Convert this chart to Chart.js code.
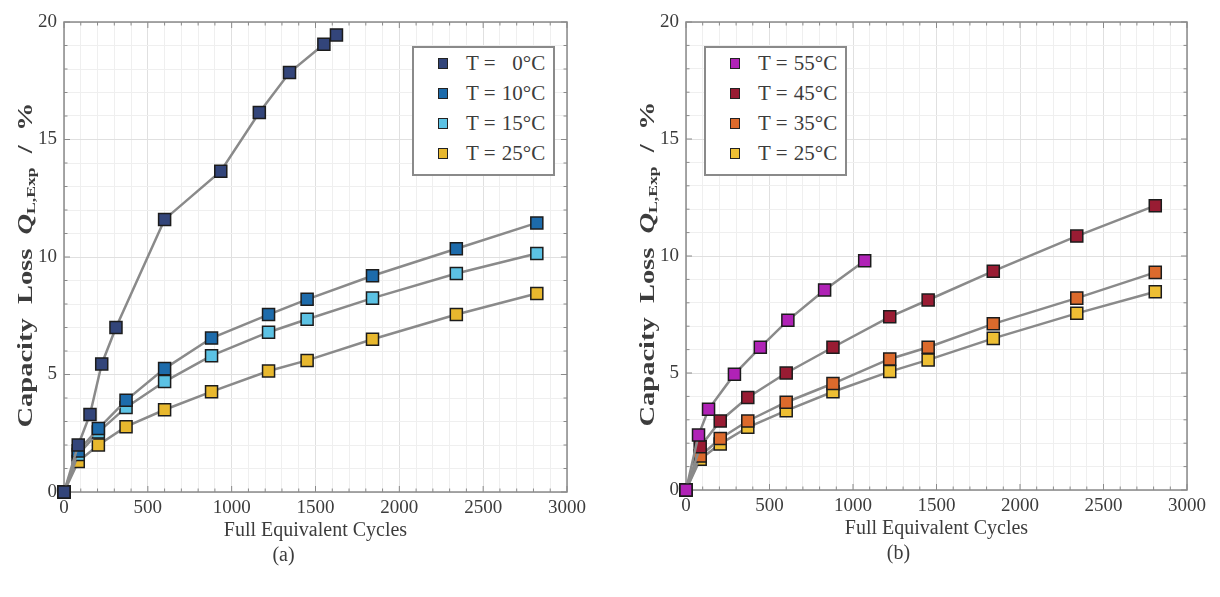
<!DOCTYPE html>
<html>
<head>
<meta charset="utf-8">
<script src="https://cdn.jsdelivr.net/npm/chart.js@4.4.1/dist/chart.umd.min.js"></script>
<style>
  body { margin: 0; background: #fff; width: 1220px; height: 597px; overflow: hidden; position: relative; font-family: "Liberation Serif", serif; }
  .wrap { position: absolute; top: 0; height: 597px; }
  #wrapA { left: 0; width: 600px; }
  #wrapB { left: 610px; width: 610px; }
  .legend { position: absolute; top: 46px; width: 139px; height: 126px; border: 2px solid #8a8a8a; background: #fff; color: #3c3c3c; font-size: 21px; }
  .legend .row { position: relative; height: 30px; line-height: 30px; }
  .legend .mk { position: absolute; left: 24px; top: 10px; width: 8px; height: 9px; border: 1.5px solid #222; }
  .legend .tx { position: absolute; left: 52px; top: 0; white-space: pre; }
  .legend .num { display: inline-block; width: 22px; text-align: right; }
</style>
</head>
<body>
<div class="wrap" id="wrapA"><canvas id="chartA" width="600" height="597"></canvas></div>
<div class="wrap" id="wrapB"><canvas id="chartB" width="610" height="597"></canvas></div>
<div class="legend" id="legendA" style="left:412px"></div>
<div class="legend" id="legendB" style="left:704px"></div>
<script>
// ---- data ----
var cyclesT0 = [0, 85, 155, 225, 310, 600, 935, 1165, 1345, 1550, 1625];
var lossT0 = [0, 2.0, 3.3, 5.45, 7.0, 11.6, 13.65, 16.15, 17.85, 19.05, 19.45];

var cyclesA = [0, 85, 205, 370, 600, 880, 1220, 1450, 1840, 2340, 2820];
var lossT10 = [0, 1.75, 2.7, 3.9, 5.25, 6.55, 7.55, 8.2, 9.2, 10.35, 11.45];
var lossT15 = [0, 1.6, 2.55, 3.6, 4.7, 5.8, 6.8, 7.35, 8.25, 9.3, 10.15];
var lossT25a = [0, 1.3, 2.0, 2.78, 3.5, 4.27, 5.15, 5.6, 6.5, 7.55, 8.45];

var cyclesT55 = [0, 75, 135, 290, 445, 610, 830, 1070];
var lossT55 = [0, 2.35, 3.45, 4.95, 6.1, 7.25, 8.55, 9.8];

var cyclesB = [0, 85, 205, 370, 600, 880, 1220, 1450, 1840, 2340, 2810];
var lossT45 = [0, 1.85, 2.95, 3.95, 5.0, 6.1, 7.4, 8.12, 9.35, 10.85, 12.15];
var lossT35 = [0, 1.45, 2.2, 2.95, 3.75, 4.55, 5.6, 6.1, 7.1, 8.2, 9.3];
var lossT25b = [0, 1.31, 1.97, 2.68, 3.39, 4.2, 5.06, 5.56, 6.48, 7.55, 8.47];

var tempsA = ["0", "10", "15", "25"];
var tempsB = ["55", "45", "35", "25"];
var colorsA = ["#33457a", "#1d6bab", "#5cc2e4", "#e8b82e"];
var colorsB = ["#b022b6", "#991c33", "#dc6a2c", "#eebf34"];

var xTicks = [0, 500, 1000, 1500, 2000, 2500, 3000];
var yTicks = [0, 5, 10, 15, 20];

var textColor = "#3c3c3c";
var serif = "'Liberation Serif', 'DejaVu Serif', serif";

function toPoints(xs, ys) {
  var pts = [];
  for (var i = 0; i < xs.length; i++) pts.push({ x: xs[i], y: ys[i] });
  return pts;
}

function makeSet(label, xs, ys, color) {
  return {
    label: label,
    data: toPoints(xs, ys),
    borderColor: "#8a8a8a",
    borderWidth: 2.5,
    pointStyle: "rect",
    pointRadius: 8.5,
    pointHoverRadius: 8.5,
    pointBackgroundColor: color,
    pointBorderColor: "#1c1c1c",
    pointBorderWidth: 1.5,
    tension: 0,
    clip: false,
  };
}

// box around the axes with inward tick marks (matlab look)
var frameTicks = {
  id: "frameTicks",
  beforeDatasetsDraw: function (chart) {
    var c = chart.ctx, a = chart.chartArea;
    var xs = chart.scales.x, ys = chart.scales.y;
    c.save();
    c.strokeStyle = "#8a8a8a";
    c.lineWidth = 1.5;
    c.strokeRect(a.left, a.top, a.right - a.left, a.bottom - a.top);
    c.lineWidth = 1;
    c.beginPath();
    xs.ticks.forEach(function (t) {
      var p = xs.getPixelForValue(t.value);
      var len = xTicks.indexOf(t.value) >= 0 ? 6 : 3.5;
      c.moveTo(p, a.bottom); c.lineTo(p, a.bottom - len);
      c.moveTo(p, a.top); c.lineTo(p, a.top + len);
    });
    ys.ticks.forEach(function (t) {
      var p = ys.getPixelForValue(t.value);
      var len = yTicks.indexOf(t.value) >= 0 ? 6 : 3.5;
      c.moveTo(a.left, p); c.lineTo(a.left + len, p);
      c.moveTo(a.right, p); c.lineTo(a.right - len, p);
    });
    c.stroke();
    c.restore();
  },
};

// y axis title with italic Q and subscript
var yTitle = {
  id: "yTitle",
  afterDraw: function (chart) {
    var c = chart.ctx, a = chart.chartArea;
    var big = "bold 21px " + serif, ital = "italic bold 21px " + serif, small = "bold 13px " + serif;
    var parts = [
      { t: "Capacity  Loss  ", f: big, dy: 0 },
      { t: "Q", f: ital, dy: 0 },
      { t: "L,Exp", f: small, dy: 5 },
      { t: "  /  %", f: big, dy: 0 },
    ];
    c.save();
    var total = 0;
    parts.forEach(function (p) { c.font = p.f; p.w = c.measureText(p.t).width; total += p.w; });
    var target = 325;
    var sx = target / total;
    c.translate(a.left - 37, (a.top + a.bottom) / 2 + 8);
    c.rotate(-Math.PI / 2);
    c.scale(sx, 1);
    c.fillStyle = textColor;
    c.textBaseline = "middle";
    var x = -total / 2;
    parts.forEach(function (p) {
      c.font = p.f;
      c.fillText(p.t, x, p.dy);
      x += p.w;
    });
    c.restore();
  },
};

function makeChart(id, datasets, yWidth, padBottom, letter) {
  return new Chart(document.getElementById(id).getContext("2d"), {
    type: "line",
    data: { datasets: datasets },
    options: {
      responsive: false,
      animation: false,
      devicePixelRatio: 1,
      layout: { padding: { left: 0, right: 33, top: 22, bottom: padBottom } },
      scales: {
        x: {
          type: "linear",
          min: 0,
          max: 3000,
          afterFit: function (s) { s.height = 52; },
          ticks: {
            stepSize: 100,
            autoSkip: false,
            maxRotation: 0,
            padding: 5,
            color: textColor,
            font: { family: serif, size: 19 },
            callback: function (v) { return xTicks.indexOf(v) >= 0 ? String(v) : ""; },
          },
          grid: {
            drawTicks: false,
            color: function (ctx) { return ctx.tick && xTicks.indexOf(ctx.tick.value) >= 0 ? "#e0e0e0" : "#efefef"; },
          },
          border: { display: false },
          title: {
            display: true,
            text: "Full Equivalent Cycles",
            color: textColor,
            font: { family: serif, size: 20 },
            padding: { top: 0, bottom: 1 },
          },
        },
        y: {
          type: "linear",
          min: 0,
          max: 20,
          afterFit: function (s) { s.width = yWidth; },
          ticks: {
            stepSize: 1,
            autoSkip: false,
            padding: 7,
            color: textColor,
            font: { family: serif, size: 19 },
            callback: function (v) { return yTicks.indexOf(v) >= 0 ? String(v) : ""; },
          },
          grid: {
            drawTicks: false,
            color: function (ctx) { return ctx.tick && yTicks.indexOf(ctx.tick.value) >= 0 ? "#e0e0e0" : "#efefef"; },
          },
          border: { display: false },
        },
      },
      plugins: {
        legend: { display: false },
        tooltip: { enabled: false },
        title: {
          display: true,
          position: "bottom",
          text: letter,
          color: textColor,
          font: { family: serif, size: 20, weight: "normal" },
          padding: { top: 0, bottom: 0 },
        },
      },
    },
    plugins: [frameTicks, yTitle],
  });
}

var chartA = makeChart("chartA", [
  makeSet("T = 0°C", cyclesT0, lossT0, colorsA[0]),
  makeSet("T = 10°C", cyclesA, lossT10, colorsA[1]),
  makeSet("T = 15°C", cyclesA, lossT15, colorsA[2]),
  makeSet("T = 25°C", cyclesA, lossT25a, colorsA[3]),
], 64, 29, "(a)");

var chartB = makeChart("chartB", [
  makeSet("T = 55°C", cyclesT55, lossT55, colorsB[0]),
  makeSet("T = 45°C", cyclesB, lossT45, colorsB[1]),
  makeSet("T = 35°C", cyclesB, lossT35, colorsB[2]),
  makeSet("T = 25°C", cyclesB, lossT25b, colorsB[3]),
], 76, 31, "(b)");

function buildLegend(elId, temps, colors) {
  var el = document.getElementById(elId);
  var html = "";
  for (var i = 0; i < temps.length; i++) {
    html += '<div class="row"><span class="mk" style="background:' + colors[i] + '"></span>' +
      '<span class="tx">T = <span class="num">' + temps[i] + '</span>°C</span></div>';
  }
  el.innerHTML = html;
}
buildLegend("legendA", tempsA, colorsA);
buildLegend("legendB", tempsB, colorsB);
</script>
</body>
</html>
